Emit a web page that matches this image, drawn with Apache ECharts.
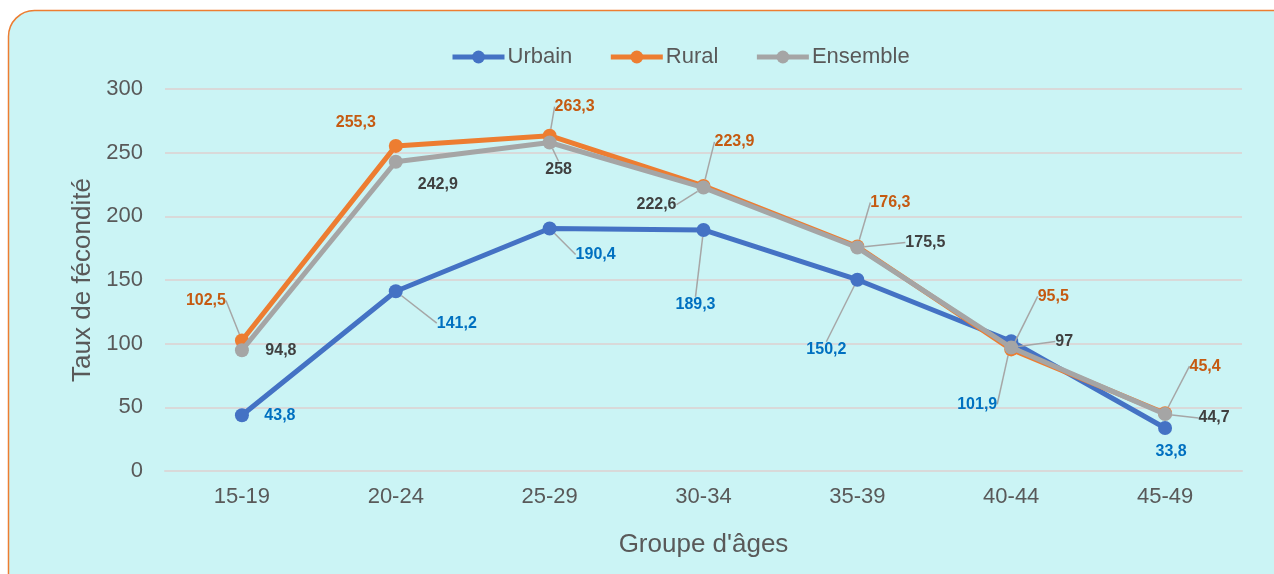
<!DOCTYPE html>
<html><head><meta charset="utf-8">
<script src="https://cdn.jsdelivr.net/npm/echarts@6/dist/echarts.min.js"></script>
<style>html,body{margin:0;padding:0;background:#fff;}#c{width:1274px;height:574px;}</style>
</head><body><div id="c"></div>
<script>
const categories = ['15-19','20-24','25-29','30-34','35-39','40-44','45-49'];
const urbain = [43.8, 141.2, 190.4, 189.3, 150.2, 101.9, 33.8];
const rural = [102.5, 255.3, 263.3, 223.9, 176.3, 95.5, 45.4];
const ensemble = [94.8, 242.9, 258, 222.6, 175.5, 97, 44.7];
const seriesNames = ['Urbain','Rural','Ensemble'];

// label offsets (pixels) and leader flags
const labelOffsets = [
  [[38,0],[61,32],[46,26],[-8,75],[-31,70],[-34,63],[6,24]],
  [[-36,-40],[-40,-23],[25,-29],[31,-44],[33,-44],[42,-53],[40,-47]],
  [[39,0],[42,23],[9,27],[-47,17],[68,-5],[53,-6],[49,4]]
];
const leaders = [
  [0,1,1,1,1,1,0],
  [1,0,1,1,1,1,1],
  [0,0,1,1,1,1,1]
];
const lineColors = ['#4472C4','#ED7D31','#A5A5A5'];
const labelColors = ['#0070C0','#C55A11','#404040'];
const FONT = '"Liberation Sans", Arial, sans-serif';

function fmt(v){ return String(v).replace('.', ','); }

function mkSeries(i, vals){
  return {
    name: seriesNames[i], type: 'line', data: vals.map((v,j)=>({
      value: v,
      labelLine: {show: !!leaders[i][j]}
    })),
    z: 2 + i,
    lineStyle: {width: 5, color: lineColors[i]},
    itemStyle: {color: lineColors[i]},
    symbol: 'circle', symbolSize: 14,
    label: {show: true, position: 'inside', fontFamily: FONT, fontWeight: 'bold', fontSize: 16,
      color: labelColors[i], formatter: p => fmt(p.value)},
    labelLine: {show: true, lineStyle: {color: '#A6A6A6', width: 1.5}, smooth: false},
    labelLayout: function(p){ const o = labelOffsets[i][p.dataIndex]; return {dx: o[0], dy: o[1]}; },
    emphasis: {disabled: true},
    animation: false
  };
}

const chart = echarts.init(document.getElementById('c'), null, {renderer: 'canvas'});
chart.setOption({
  animation: false,
  graphic: [{
    type: 'rect', z: -10, silent: true,
    shape: {x: 8.5, y: 10.5, width: 1290, height: 590, r: 26},
    style: {fill: '#CBF4F5', stroke: '#ED7D31', lineWidth: 1.5}
  }],
  legend: {
    top: 41, left: 445, itemWidth: 52, itemHeight: 16, itemGap: 36,
    lineStyle: {width: 5},
    textStyle: {fontFamily: FONT, fontSize: 22, color: '#595959', padding: [0,0,0,-2]},
    data: seriesNames
  },
  grid: {left: 165, right: 32, top: 89, bottom: 103},
  xAxis: {
    type: 'category', data: categories, boundaryGap: true,
    axisLine: {lineStyle: {color: '#D9D9D9', width: 2}},
    axisTick: {show: false},
    axisLabel: {fontFamily: FONT, fontSize: 22, color: '#595959', margin: 15},
    name: "Groupe d'âges", nameLocation: 'middle', nameGap: 61,
    nameTextStyle: {fontFamily: FONT, fontSize: 26, color: '#595959'}
  },
  yAxis: {
    type: 'value', min: 0, max: 300, interval: 50,
    axisLine: {show: false}, axisTick: {show: false},
    splitLine: {lineStyle: {color: '#D9D9D9', width: 2}},
    axisLabel: {fontFamily: FONT, fontSize: 22, color: '#595959', margin: 22},
    name: 'Taux de fécondité', nameLocation: 'middle', nameGap: 69,
    nameTextStyle: {fontFamily: FONT, fontSize: 26, color: '#595959'}
  },
  series: [mkSeries(0, urbain), mkSeries(1, rural), mkSeries(2, ensemble)]
});
</script></body></html>
